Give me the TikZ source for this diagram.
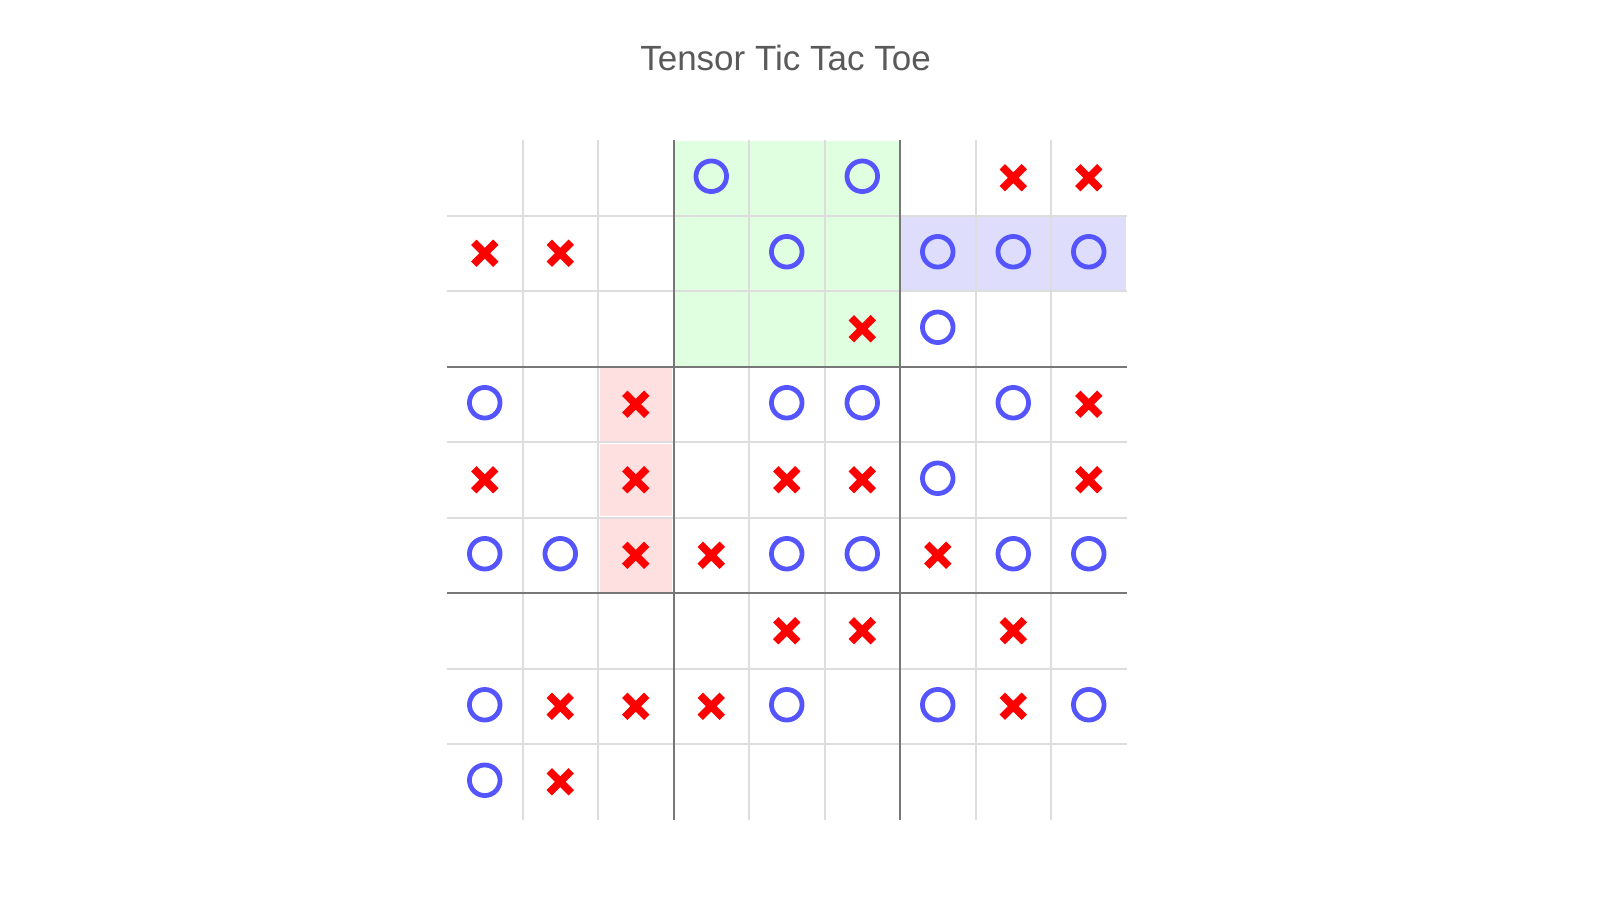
\documentclass[tikz,border=0pt]{standalone}
\usepackage{fontspec}
\setmainfont{Liberation Sans}
\definecolor{titlecol}{RGB}{90,90,90}
\definecolor{ocol}{RGB}{85,85,255}
\definecolor{xcol}{RGB}{255,0,0}
\definecolor{gfill}{RGB}{224,255,224}
\definecolor{pfill}{RGB}{255,224,224}
\definecolor{bfill}{RGB}{222,222,252}
\definecolor{minorcol}{RGB}{221,221,221}
\definecolor{majorcol}{RGB}{119,119,119}
\begin{document}
\begin{tikzpicture}[x=1pt,y=-1pt,
  minorline/.style={draw=minorcol,line width=2pt},
  majorline/.style={draw=majorcol,line width=2pt},
  omark/.style={draw=ocol,line width=4.8pt},
  xmark/.style={draw=xcol,line width=7.5pt},
  pics/xm/.style={code={\draw[xmark] (-11,-11)--(11,11) (-11,11)--(11,-11);}},
  pics/om/.style={code={\draw[omark] (0,0) circle[radius=15.3pt];}},
]
\useasboundingbox (0,0) rectangle (1600,900);
\def\cs{75.5}
\def\gx{447}
\def\gy{140}
% highlighted cells
\foreach \r/\c in {0/3,0/4,0/5,1/3,1/4,1/5,2/3,2/4,2/5}
  \fill[gfill] (\gx+\c*\cs+1, \gy+\r*\cs+1) rectangle (\gx+\c*\cs+\cs-1, \gy+\r*\cs+\cs-1);
\foreach \r/\c in {3/2,4/2,5/2}
  \fill[pfill] (\gx+\c*\cs+1.5, \gy+\r*\cs+1.5) rectangle (\gx+\c*\cs+\cs-1.5, \gy+\r*\cs+\cs-1.5);
\foreach \r/\c in {1/6,1/7,1/8}
  \fill[bfill] (\gx+\c*\cs+1, \gy+\r*\cs+1) rectangle (\gx+\c*\cs+\cs-1, \gy+\r*\cs+\cs-1);
% grid lines
\foreach \k in {1,2,4,5,7,8}{
  \draw[minorline] (\gx+\k*\cs, \gy) -- (\gx+\k*\cs, \gy+9*\cs);
  \draw[minorline] (\gx, \gy+\k*\cs) -- (\gx+9*\cs, \gy+\k*\cs);
}
\foreach \k in {3,6}{
  \draw[majorline] (\gx+\k*\cs, \gy) -- (\gx+\k*\cs, \gy+9*\cs);
  \draw[majorline] (\gx, \gy+\k*\cs) -- (\gx+9*\cs, \gy+\k*\cs);
}
% O marks
\foreach \r/\c in {0/3,0/5,1/4,1/6,1/7,1/8,2/6,3/0,3/4,3/5,3/7,4/6,5/0,5/1,5/4,5/5,5/7,5/8,7/0,7/4,7/6,7/8,8/0}
  \pic at (\gx+\c*\cs+\cs/2, \gy+\r*\cs+\cs/2-1.5) {om};
% X marks
\foreach \r/\c in {0/7,0/8,1/0,1/1,2/5,3/2,3/8,4/0,4/2,4/4,4/5,4/8,5/2,5/3,5/6,6/4,6/5,6/7,7/1,7/2,7/3,7/7,8/1}
  \pic at (\gx+\c*\cs+\cs/2, \gy+\r*\cs+\cs/2) {xm};
% title
\node[text=titlecol, font=\fontsize{35}{42}\selectfont, anchor=base, inner sep=0pt] (title) at (785.5,70) {Tensor Tic Tac Toe};
\end{tikzpicture}
\end{document}
